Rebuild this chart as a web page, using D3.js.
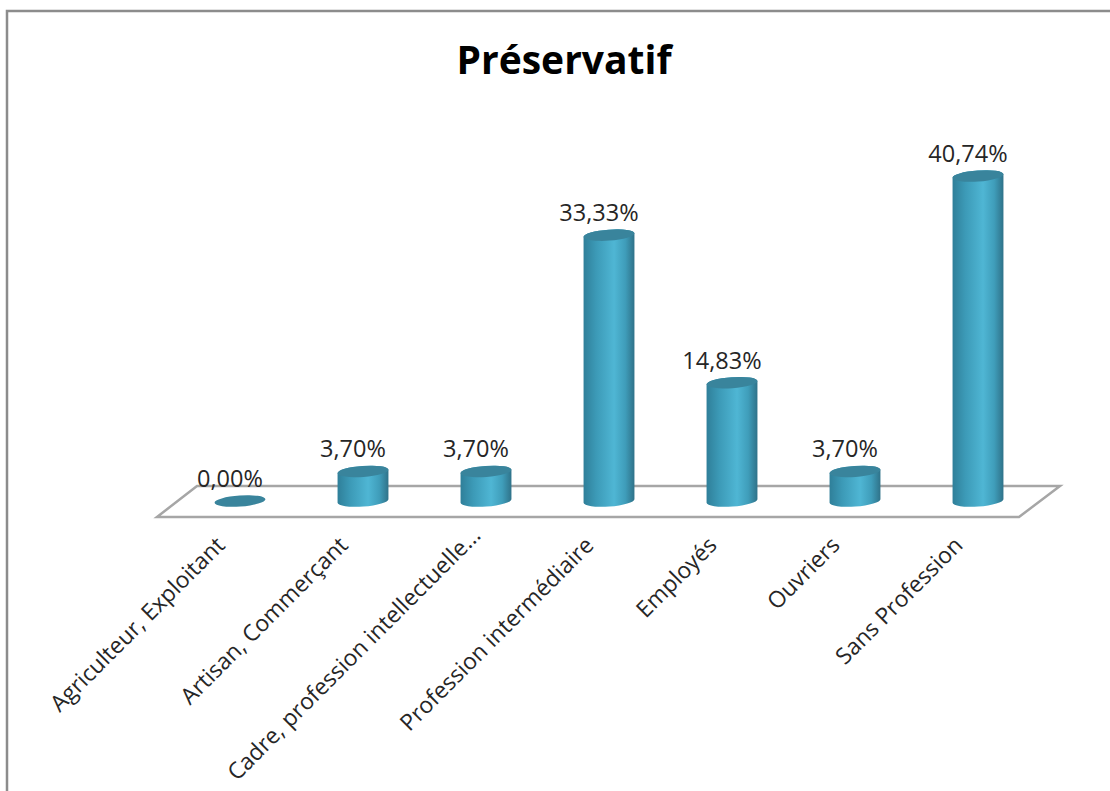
<!DOCTYPE html>
<html lang="fr">
<head>
<meta charset="utf-8">
<title>Préservatif</title>
<script src="https://cdn.jsdelivr.net/npm/d3@7"></script>
<style>
	html, body { margin: 0; padding: 0; background: #fff; overflow: hidden; }
	svg { display: block; }
	text { font-family: "Open Sans", sans-serif; fill: #262626; }
	.title { font-size: 39px; font-weight: 700; fill: #000; }
	.value { font-size: 23.5px; }
	.x.axis text { font-size: 22.8px; font-family: "Open Sans", sans-serif; fill: #262626; }
</style>
</head>
<body>
<div id="chart"></div>
<script>
"use strict";

// Chart data
var categories = ["Agriculteur, Exploitant", "Artisan, Commerçant", "Cadre, profession intellectuelle...",
	"Profession intermédiaire", "Employés", "Ouvriers", "Sans Profession"];
var percentages = [0, 3.7, 3.7, 33.33, 14.83, 3.7, 40.74];
var chartTitle = "Préservatif";

// Graph dimensions
var width = 1110,
	height = 791,
	barRx = 25.5,
	barRy = 5.5,
	tilt = -4,
	baseY = 501;

var svg = d3.select("#chart").append("svg")
	.attr("width", width)
	.attr("height", height);

// Cylinder side shading
var gradient = svg.append("defs").append("linearGradient")
	.attr("id", "side");
[[0, "#2f7f99"], [0.25, "#3c9ab7"], [0.6, "#4fb6d4"], [0.82, "#3f9dba"], [1, "#2f7289"]].forEach(function (s) {
	gradient.append("stop").attr("offset", s[0]).attr("stop-color", s[1]);
});

// Outer frame, runs off the right and bottom of the picture
svg.append("path")
	.attr("d", "M7,791V11H1110")
	.attr("fill", "none")
	.attr("stroke", "#8c8c8c")
	.attr("stroke-width", 2.5);

svg.append("text")
	.attr("class", "title")
	.attr("x", 564)
	.attr("y", 74)
	.attr("text-anchor", "middle")
	.text(chartTitle);

// Floor of the 3D plot
svg.append("path")
	.attr("d", "M157,517L1019,517L1060,486L197,486Z")
	.attr("fill", "#fff")
	.attr("stroke", "#a6a6a6")
	.attr("stroke-width", 2.5);

var x = d3.scalePoint()
	.domain(categories)
	.range([240, 978]);

var y = d3.scaleLinear()
	.domain([0, 40.74])
	.range([baseY, 176]);

var xAxis = d3.axisBottom(x).tickSize(0).tickPadding(0);

var axisGroup = svg.append("g")
	.attr("class", "x axis")
	.attr("transform", "translate(-20,541)")
	.call(xAxis);

axisGroup.select(".domain").remove();
axisGroup.selectAll("text")
	.attr("dy", "0.35em")
	.attr("y", 0)
	.attr("text-anchor", "end")
	.attr("transform", "rotate(-45)");

// The truncated label runs further up than the others
axisGroup.selectAll("text")
	.filter(function (d) { return d.slice(-3) === "..."; })
	.attr("dx", 14);

var dx = barRx * Math.cos(tilt * Math.PI / 180),
	dy = barRx * Math.sin(tilt * Math.PI / 180);

function sidePath(d) {
	var cx = x(d[0]), top = y(d[1]);
	return "M" + (cx - dx) + "," + (top - dy) +
		"L" + (cx - dx) + "," + (baseY - dy) +
		"A" + barRx + "," + barRy + "," + tilt + ",0,0," + (cx + dx) + "," + (baseY + dy) +
		"L" + (cx + dx) + "," + (top + dy) +
		"A" + barRx + "," + barRy + "," + tilt + ",0,0," + (cx - dx) + "," + (top - dy) + "Z";
}

var bars = svg.selectAll(".bar")
	.data(d3.zip(categories, percentages))
	.enter().append("g")
	.attr("class", "bar");

bars.filter(function (d) { return d[1] > 0; })
	.append("path")
	.attr("d", sidePath)
	.attr("fill", "url(#side)");

bars.append("ellipse")
	.attr("rx", barRx)
	.attr("ry", barRy)
	.attr("transform", function (d) {
		return "translate(" + x(d[0]) + "," + y(d[1]) + ") rotate(" + tilt + ")";
	})
	.attr("fill", "#39849c");

// Value labels sit left of the bar centre, over the top
bars.append("text")
	.attr("class", "value")
	.attr("x", function (d) { return x(d[0]) - 10; })
	.attr("y", function (d) { return y(d[1]) - 14; })
	.attr("text-anchor", "middle")
	.text(function (d) { return d[1].toFixed(2).replace(".", ",") + "%"; });
</script>
</body>
</html>
